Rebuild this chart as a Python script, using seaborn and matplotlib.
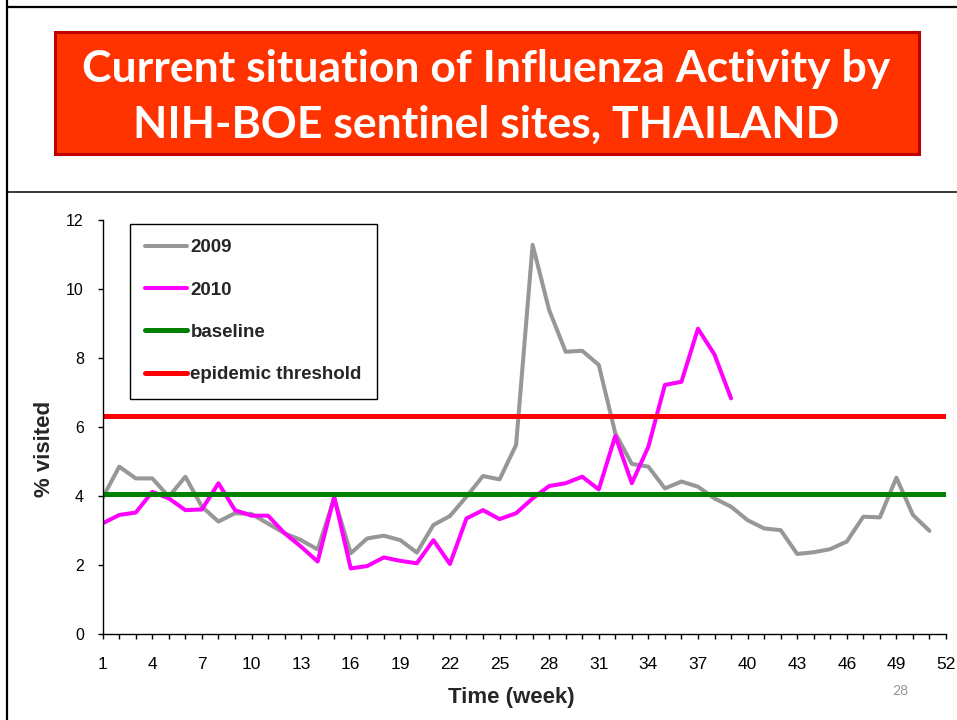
import numpy as np
import pandas as pd
import matplotlib
matplotlib.use("Agg")
import matplotlib.pyplot as plt
from matplotlib.lines import Line2D
from matplotlib.patches import Rectangle
import seaborn as sns

# =====================================
# DATA
# =====================================

weeks_2009 = list(range(1, 52))
pct_2009 = [
    3.95, 4.85, 4.51, 4.51, 3.98, 4.56, 3.69, 3.26, 3.50, 3.48,
    3.20, 2.92, 2.72, 2.45, 3.93, 2.34, 2.77, 2.85, 2.72, 2.36,
    3.16, 3.42, 3.98, 4.58, 4.48, 5.48, 11.28, 9.39, 8.18, 8.21,
    7.80, 5.82, 4.93, 4.85, 4.22, 4.42, 4.27, 3.93, 3.69, 3.30,
    3.06, 3.01, 2.32, 2.37, 2.46, 2.68, 3.40, 3.38, 4.53, 3.45,
    2.99,
]

weeks_2010 = list(range(1, 40))
pct_2010 = [
    3.21, 3.45, 3.52, 4.12, 3.93, 3.59, 3.61, 4.37, 3.59, 3.43,
    3.43, 2.92, 2.53, 2.10, 3.98, 1.90, 1.97, 2.22, 2.12, 2.05,
    2.72, 2.03, 3.35, 3.59, 3.33, 3.50, 3.93, 4.29, 4.37, 4.56,
    4.19, 5.74, 4.37, 5.43, 7.22, 7.31, 8.85, 8.10, 6.83,
]

baseline = 4.06
epidemic_threshold = 6.33

series_labels = ["2009", "2010", "baseline", "epidemic threshold"]
colors = {
    "2009": "#979797",
    "2010": "#FF00FF",
    "baseline": "#008000",
    "epidemic threshold": "#FF0000",
}

xtick_weeks = list(range(1, 53))
ytick_vals = [0, 2, 4, 6, 8, 10, 12]

title_lines = [
    "Current situation of Influenza Activity by",
    "NIH-BOE sentinel sites, THAILAND",
]

df = pd.concat([
    pd.DataFrame({"week": weeks_2009, "pct": pct_2009, "year": "2009"}),
    pd.DataFrame({"week": weeks_2010, "pct": pct_2010, "year": "2010"}),
])

# =====================================
# FIGURE
# =====================================

sns.set_style("white")
plt.rcParams["font.family"] = ["Liberation Sans", "DejaVu Sans"]

W, H = 957, 720
fig = plt.figure(figsize=(W / 100, H / 100), dpi=100)


def fx(px):
    return px / W


def fy(py):
    return 1 - py / H


# slide frame
fig.add_artist(Line2D([fx(7.5), fx(7.5)], [0, 1], color="black", lw=1.6,
                      transform=fig.transFigure))
fig.add_artist(Line2D([fx(7), 1], [fy(6.5), fy(6.5)], color="black", lw=1.6,
                      transform=fig.transFigure))
fig.add_artist(Line2D([fx(7), 1], [fy(191.5), fy(191.5)], color="black", lw=1.1,
                      transform=fig.transFigure))

# title box
fig.add_artist(Rectangle((fx(54.5), fy(153.5)), fx(920 - 56), 121.5 / H,
                         facecolor="#FF3300", edgecolor="#C00000", lw=2.2,
                         transform=fig.transFigure))
for txt, base in zip(title_lines, [82, 138]):
    fig.text(fx(486.5), fy(base), txt, color="white", fontsize=32,
             fontweight="bold", family=["Lato", "DejaVu Sans"],
             ha="center", va="baseline")

# =====================================
# PLOT
# =====================================

ax = fig.add_axes([fx(102.7), fy(634), fx(946 - 102.7), (634 - 220) / H])

sns.lineplot(
    data=df, x="week", y="pct", hue="year",
    palette={"2009": colors["2009"], "2010": colors["2010"]},
    linewidth=2.9, legend=False, ax=ax,
)
ax.axhline(baseline, color=colors["baseline"], lw=3.6)
ax.axhline(epidemic_threshold, color=colors["epidemic threshold"], lw=3.6)

ax.set_xlim(1, 52)
ax.set_ylim(0, 12)

ax.set_xticks(xtick_weeks)
ax.set_xticklabels([str(w) if (w - 1) % 3 == 0 else "" for w in xtick_weeks],
                   fontsize=12.5)
ax.set_yticks(ytick_vals)
ax.set_yticklabels([str(v) for v in ytick_vals], fontsize=11.5)

ax.tick_params(axis="x", direction="out", length=3.6, width=1, pad=13,
               colors="black", bottom=True)
ax.tick_params(axis="y", direction="out", length=3.6, width=1, pad=10,
               colors="black", left=True)

for s in ["top", "right"]:
    ax.spines[s].set_visible(False)
for s in ["left", "bottom"]:
    ax.spines[s].set_color("black")
    ax.spines[s].set_linewidth(1.0)

ax.set_xlabel("")
ax.set_ylabel("")

fig.text(fx(511.5), fy(697), "Time (week)", fontsize=16, fontweight="bold",
         ha="center", va="center")
fig.text(fx(45), fy(449), "% visited", fontsize=16, fontweight="bold",
         rotation=90, ha="center", va="center")

# legend
handles = ax.lines[:4]
leg = ax.legend(
    handles, series_labels,
    loc="upper left",
    bbox_to_anchor=(fx(130), fy(224)),
    bbox_transform=fig.transFigure,
    frameon=True, fancybox=False, shadow=False,
    prop={"weight": "bold", "size": 13.5},
    handlelength=2.2, handletextpad=0.2,
    labelspacing=1.34, borderpad=0.82, borderaxespad=0,
)
leg.get_frame().set_edgecolor("black")
leg.get_frame().set_linewidth(1.0)
leg.get_frame().set_alpha(1)

# page number
fig.text(fx(900), fy(691), "28", color="#999999", fontsize=10,
         family=["Lato", "DejaVu Sans"], ha="center", va="center")

fig.savefig("out.png", dpi=100)
